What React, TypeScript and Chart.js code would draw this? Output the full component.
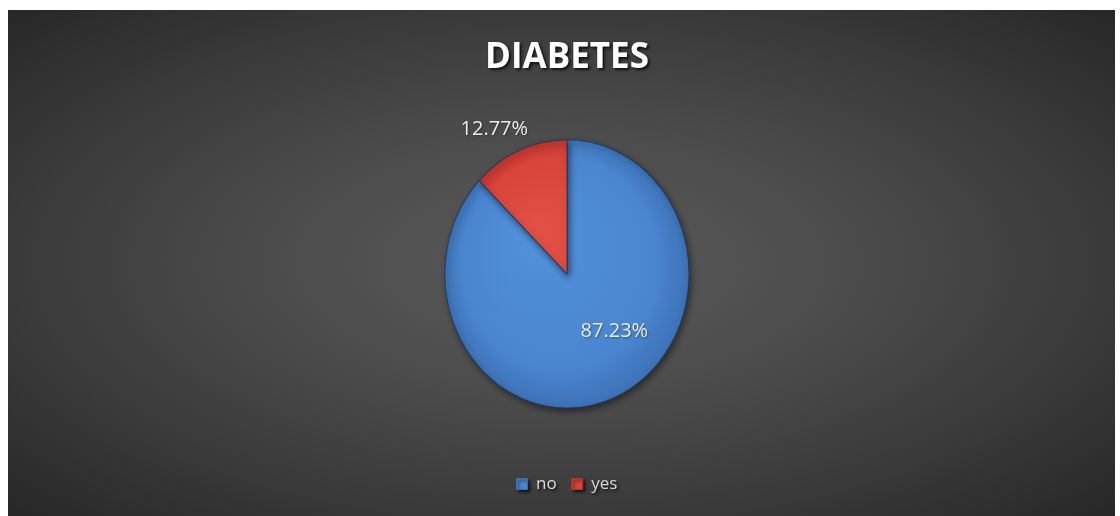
import React, { useEffect, useRef } from "react";
import { Chart, registerables } from "chart.js";

Chart.register(...registerables);

const categories = ["no", "yes"];
const values = [87.23, 12.77];
const sliceColors = ["#4a86d0", "#d8433a"];
const sliceLight = ["#5390da", "#e14f45"];
const sliceDark = ["#3c70b4", "#b9342c"];
const chartTitle = "DIABETES";

const Y_STRETCH = 1.1;

const piePlugin = {
  id: "pieExtras",
  beforeDraw(chart: any) {
    const ctx = chart.ctx;
    ctx.save();
    ctx.shadowColor = "rgba(0,0,0,0.75)";
    ctx.shadowBlur = 3;
    ctx.shadowOffsetX = 2;
    ctx.shadowOffsetY = 2;
  },
  beforeDatasetsDraw(chart: any) {
    const ctx = chart.ctx;
    ctx.restore();
    const meta = chart.getDatasetMeta(0);
    const arc = meta.data[0];
    if (!arc) return;
    const { x, y } = arc.getProps(["x", "y"], true);
    ctx.save();
    ctx.translate(x, y);
    ctx.scale(1, Y_STRETCH);
    ctx.translate(-x, -y);
    ctx.shadowColor = "rgba(0,0,0,0.45)";
    ctx.shadowBlur = 6;
    ctx.shadowOffsetX = 2;
    ctx.shadowOffsetY = 3;
  },
  afterDatasetsDraw(chart: any, _args: any, opts: any) {
    const ctx = chart.ctx;
    ctx.restore();
    const meta = chart.getDatasetMeta(0);
    const data = chart.data.datasets[0].data as number[];
    meta.data.forEach((el: any, i: number) => {
      const p = el.getProps(["x", "y", "startAngle", "endAngle", "outerRadius"], true);
      const mid = (p.startAngle + p.endAngle) / 2 + (opts.angleShift[i] * Math.PI) / 180;
      const r = p.outerRadius * opts.radiusFactor[i];
      const lx = p.x + Math.cos(mid) * r;
      const ly = p.y + Math.sin(mid) * r * Y_STRETCH;
      ctx.save();
      ctx.font = "20px 'Open Sans'";
      ctx.fillStyle = "#ececec";
      ctx.textAlign = "center";
      ctx.textBaseline = "middle";
      ctx.shadowColor = "rgba(0,0,0,0.35)";
      ctx.shadowBlur = 2;
      ctx.shadowOffsetX = 1;
      ctx.shadowOffsetY = 1;
      ctx.fillText(data[i].toFixed(2) + "%", lx, ly);
      ctx.restore();
    });
  },
};

function sliceFill(ctx: any) {
  const chart = ctx.chart;
  const i = ctx.dataIndex;
  const area = chart.chartArea;
  if (!area) return sliceColors[i];
  const cx = (area.left + area.right) / 2;
  const cy = (area.top + area.bottom) / 2;
  const g = chart.ctx.createRadialGradient(cx - 30, cy - 40, 10, cx, cy, 125);
  g.addColorStop(0, sliceLight[i]);
  g.addColorStop(0.75, sliceColors[i]);
  g.addColorStop(1, sliceDark[i]);
  return g;
}

export default function App() {
  const canvasRef = useRef<HTMLCanvasElement | null>(null);

  useEffect(() => {
    if (!canvasRef.current) return;
    const chart = new Chart(canvasRef.current, {
      type: "pie",
      data: {
        labels: categories,
        datasets: [
          {
            data: values,
            backgroundColor: sliceFill as any,
            borderColor: "rgba(30,55,95,0.8)",
            borderWidth: 1,
          },
        ],
      },
      options: {
        animation: false,
        responsive: true,
        maintainAspectRatio: false,
        radius: 122,
        layout: { padding: { left: 11, bottom: 13.5, top: 0, right: 0 } },
        plugins: {
          tooltip: { enabled: false },
          title: {
            display: true,
            text: chartTitle,
            color: "#ffffff",
            font: { family: "'Open Sans'", size: 35, weight: "bold" },
            padding: { top: 27, bottom: 8.3 },
          },
          legend: {
            display: true,
            position: "bottom",
            labels: {
              color: "#d9d9d9",
              font: { family: "'Open Sans'", size: 17 },
              boxWidth: 11,
              boxHeight: 11,
              padding: 15,
              generateLabels: (chart: any) =>
                categories.map((c, i) => ({
                  text: c,
                  fillStyle: sliceColors[i],
                  strokeStyle: sliceDark[i],
                  lineWidth: 1,
                  fontColor: "#d9d9d9",
                  hidden: false,
                  index: i,
                })),
            },
          },
          pieExtras: {
            radiusFactor: [0.58, 1.23],
            angleShift: [-19, -6],
          },
        } as any,
      },
      plugins: [piePlugin],
    });
    return () => chart.destroy();
  }, []);

  return (
    <div
      style={{
        position: "absolute",
        left: 8,
        top: 10,
        width: 1107,
        height: 506,
        background:
          "radial-gradient(ellipse at 50% 50%, #595959 0%, #4d4d4d 35%, #3a3a3a 70%, #272727 100%)",
      }}
    >
      <canvas ref={canvasRef} />
    </div>
  );
}
